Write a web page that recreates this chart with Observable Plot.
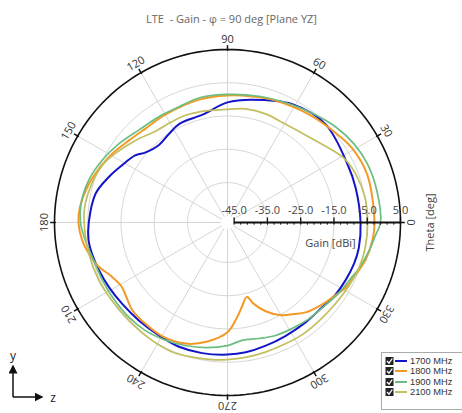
<!DOCTYPE html>
<html>
<head>
<meta charset="utf-8">
<script src="https://cdn.jsdelivr.net/npm/d3@7"></script>
<script src="https://cdn.jsdelivr.net/npm/@observablehq/plot@0.6"></script>
<style>
  html, body { margin: 0; padding: 0; background: #fff; }
  #wrap { position: relative; width: 462px; height: 413px; overflow: hidden; font-family: "Open Sans", "Noto Sans", sans-serif; }
  #chart { position: absolute; left: 0; top: 0; }
  #legend { position: absolute; left: 381px; top: 352px; width: 95px; height: 58px; border: 1px solid #aaa; background: #fff; box-sizing: border-box; }
  .row { position: absolute; left: 3px; height: 10px; line-height: 10px; display: flex; align-items: center; font-family: "Liberation Sans", Arial, sans-serif; font-size: 9.3px; color: #333; white-space: nowrap; }
  .row span { line-height: 10px; display: block; }
  .row svg { display: block; }
  #axes { position: absolute; left: 0; top: 345px; }
</style>
</head>
<body>
<div id="wrap">
  <div id="chart"></div>
  <div id="legend"></div>
  <svg id="axes" width="70" height="68">
    <defs>
      <marker id="ah" viewBox="0 0 6 6" refX="5" refY="3" markerWidth="6" markerHeight="6" orient="auto">
        <path d="M0,0 L6,3 L0,6 z" fill="#111"/>
      </marker>
    </defs>
    <line x1="13" y1="52" x2="13" y2="21" stroke="#111" stroke-width="1.5" marker-end="url(#ah)"/>
    <line x1="13" y1="52" x2="42" y2="52" stroke="#111" stroke-width="1.5" marker-end="url(#ah)"/>
    <text x="13" y="15" text-anchor="middle" font-size="12" font-family="Open Sans, sans-serif" fill="#222">y</text>
    <text x="53" y="57" text-anchor="middle" font-size="12" font-family="Open Sans, sans-serif" fill="#222">z</text>
  </svg>
</div>
<script>
// ---- data (Theta in degrees, Gain in dBi) ----
const seriesNames = ["1700 MHz", "1800 MHz", "1900 MHz", "2100 MHz"];
const seriesColors = ["#1414c8", "#f39a26", "#6cbd80", "#c2bf5e"];
const seriesWidths = [2, 2, 1.7, 1.7];

const theta1700 = [0, 15, 26, 45, 61, 79, 90, 103, 116, 123.5, 131.7, 139.4, 144, 151.6, 159, 167.7, 180, 187, 193, 200.5, 208.6, 217.7, 228, 238.7, 248.7, 259, 270, 278, 287, 297, 308, 318, 326, 334, 342, 349];
const gain1700  = [-7.0, -7.1, -6.9, -5.3, -6.4, -9.4, -10.9, -13.7, -14.0, -15.1, -15.9, -14.6, -12.7, -10.9, -8.8, -6.4, -5.3, -4.9, -5.2, -5.8, -6.4, -7.0, -7.3, -7.3, -6.9, -7.0, -7.3, -7.6, -8.2, -8.7, -8.9, -8.8, -8.0, -7.5, -7.0, -6.8];

const theta1800 = [0, 19, 31, 41, 52, 68.5, 79, 90, 103, 120, 131.5, 140, 149, 157, 166, 174, 180, 187, 192.7, 199, 204.7, 211, 216, 222.7, 231, 240, 251, 260, 270, 275.8, 280, 284.6, 287.6, 293, 300, 306, 311, 319, 326, 331, 338, 345, 353];
const gain1800  = [-2.8, -2.6, -3.4, -5.0, -6.2, -7.6, -8.4, -8.8, -9.1, -9.6, -9.5, -8.5, -6.7, -5.2, -3.5, -2.4, -2.2, -3.0, -4.3, -6.1, -8.5, -9.8, -9.3, -8.1, -7.8, -7.6, -8.5, -10.6, -14.0, -18.4, -21.5, -23.9, -21.5, -18.1, -14.8, -13.0, -11.2, -9.4, -7.9, -6.5, -5.4, -4.0, -3.1];

const theta1900 = [0, 12, 22.5, 31.6, 41.4, 50.6, 61, 76, 91, 103, 113, 123, 133.7, 144, 153.7, 163, 172.8, 180, 187, 197, 204.8, 213, 223.8, 232.8, 242, 251, 260, 270, 277, 285, 293, 301, 310, 319.7, 327.6, 334.5, 341, 348.8, 355.6];
const gain1900  = [-1.0, -1.1, -1.4, -2.2, -3.6, -5.2, -6.6, -7.9, -8.5, -8.6, -9.3, -9.1, -8.5, -6.7, -4.9, -3.4, -2.6, -2.8, -3.9, -5.3, -5.6, -5.8, -5.9, -6.2, -7.0, -7.9, -8.8, -10.0, -11.3, -10.9, -10.1, -9.7, -9.1, -8.5, -7.4, -6.5, -5.1, -3.6, -2.2];

const theta2100 = [0, 10.4, 20.8, 28.4, 34.5, 46.4, 59.6, 70.7, 81, 91, 103, 111, 119, 128.6, 138, 146.5, 154.6, 164, 174, 180, 192.7, 204, 214, 226.7, 237.5, 246.9, 254.7, 263.6, 270, 277.6, 286, 295.5, 303.7, 313, 323, 332.6, 341, 350];
const gain2100  = [-4.9, -5.0, -5.8, -6.9, -8.7, -11.5, -12.7, -12.4, -12.4, -13.0, -12.7, -12.4, -12.4, -12.0, -10.0, -7.9, -5.8, -4.6, -3.8, -3.9, -4.3, -4.6, -5.1, -5.2, -4.9, -4.7, -5.1, -5.5, -5.8, -6.1, -6.4, -6.6, -6.5, -6.6, -6.4, -5.8, -5.2, -4.9];

const angleTicks = [0, 30, 60, 90, 120, 150, 180, 210, 240, 270, 300, 330];
const gainGrid = [-35, -25, -15, -5];
const gainTicks = [-45, -35, -25, -15, -5, 5];
const gainMinor = d3.range(-45, 5.1, 2);

const titleText = "LTE  - Gain - \u03c6 = 90 deg [Plane YZ]";
const radialLabel = "Gain [dBi]";
const angularLabel = "Theta [deg]";

// ---- geometry of the polar frame ----
const RMIN = -47, RMAX = 5;
const W = 462, H = 413, CX = 227, CY = 222;
const K = 173 / (RMAX - RMIN);  // px per dB
const rad = d => d * Math.PI / 180;
const px = (t, g) => (g - RMIN) * Math.cos(rad(t));
const py = (t, g) => (g - RMIN) * Math.sin(rad(t));

const thetas = [theta1700, theta1800, theta1900, theta2100];
const gains = [gain1700, gain1800, gain1900, gain2100];
const curves = seriesNames.map((name, i) => thetas[i].map((t, j) => ({t, g: gains[i][j], name})));

const circleAngles = d3.range(0, 361, 2);
const gridPts = gainGrid.flatMap(g => circleAngles.map(t => ({t, g})));
const outerPts = circleAngles.map(t => ({t, g: RMAX}));

const font = "Open Sans, Noto Sans, sans-serif";

const plot = Plot.plot({
  width: W, height: H, margin: 0,
  style: {fontFamily: font, background: "transparent"},
  x: {domain: [-CX / K, (W - CX) / K], axis: null},
  y: {domain: [-(H - CY) / K, CY / K], axis: null},
  marks: [
    // grid circles
    Plot.line(gridPts, {x: d => px(d.t, d.g), y: d => py(d.t, d.g), z: "g", stroke: "#d6d6d6", strokeWidth: 1}),
    // spokes
    Plot.link(angleTicks, {x1: t => px(t, -45), y1: t => py(t, -45), x2: t => px(t, RMAX), y2: t => py(t, RMAX), stroke: "#d6d6d6", strokeWidth: 1}),
    // data curves
    ...curves.map((c, i) => Plot.line(c, {x: d => px(d.t, d.g), y: d => py(d.t, d.g), stroke: seriesColors[i], strokeWidth: seriesWidths[i], curve: "catmull-rom-closed"})),
    // outer circle
    Plot.line(outerPts, {x: d => px(d.t, d.g), y: d => py(d.t, d.g), stroke: "#111", strokeWidth: 1.6}),
    // angular ticks
    Plot.link(angleTicks, {x1: t => px(t, RMAX - 0.4), y1: t => py(t, RMAX - 0.4), x2: t => px(t, RMAX + 1.3), y2: t => py(t, RMAX + 1.3), stroke: "#111", strokeWidth: 1.5}),
    // angular labels
    Plot.text(angleTicks, {x: t => px(t, RMAX + 3.1), y: t => py(t, RMAX + 3.1), text: t => String(t), rotate: t => 90 - t, fontSize: 11, fill: "#333"}),
    // radial axis
    Plot.link([0], {x1: () => -45 - RMIN, y1: 0, x2: () => RMAX - RMIN, y2: 0, stroke: "#111", strokeWidth: 2}),
    Plot.link(gainMinor, {x1: g => g - RMIN, x2: g => g - RMIN, y1: 0, y2: -2.2 / K, stroke: "#111", strokeWidth: 1}),
    Plot.link(gainTicks, {x1: g => g - RMIN, x2: g => g - RMIN, y1: -1 / K, y2: 5 / K, stroke: "#111", strokeWidth: 1.3}),
    Plot.text(gainTicks, {x: g => g - RMIN, y: 12 / K, text: g => g.toFixed(1), fontSize: 11, fill: "#444"}),
    Plot.text([radialLabel], {x: (330 - CX) / K, y: -21 / K, text: d => d, fontSize: 11, fill: "#444"}),
    Plot.text([angularLabel], {x: (430 - CX) / K, y: 0, text: d => d, rotate: -90, fontSize: 11, fill: "#444"}),
    // title
    Plot.text([titleText], {frameAnchor: "top", dy: 15, text: d => d, fontSize: 11, fill: "#666"})
  ]
});
document.getElementById("chart").appendChild(plot);

// ---- legend ----
const legend = document.getElementById("legend");
const rowTops = [2.5, 13, 23.5, 34];
seriesNames.forEach((name, i) => {
  const row = document.createElement("div");
  row.className = "row";
  row.style.top = rowTops[i] + "px";
  row.innerHTML =
    `<svg width="22" height="10">` +
    `<rect x="0.5" y="1" width="8" height="8" fill="#222"/>` +
    `<path d="M2,5 L4,7.2 L7.3,2.5" stroke="#fff" stroke-width="1.3" fill="none"/>` +
    `<line x1="10" y1="5" x2="22" y2="5" stroke="${seriesColors[i]}" stroke-width="2"/>` +
    `</svg><span style="margin-left:3px">${name}</span>`;
  legend.appendChild(row);
});
</script>
</body>
</html>
